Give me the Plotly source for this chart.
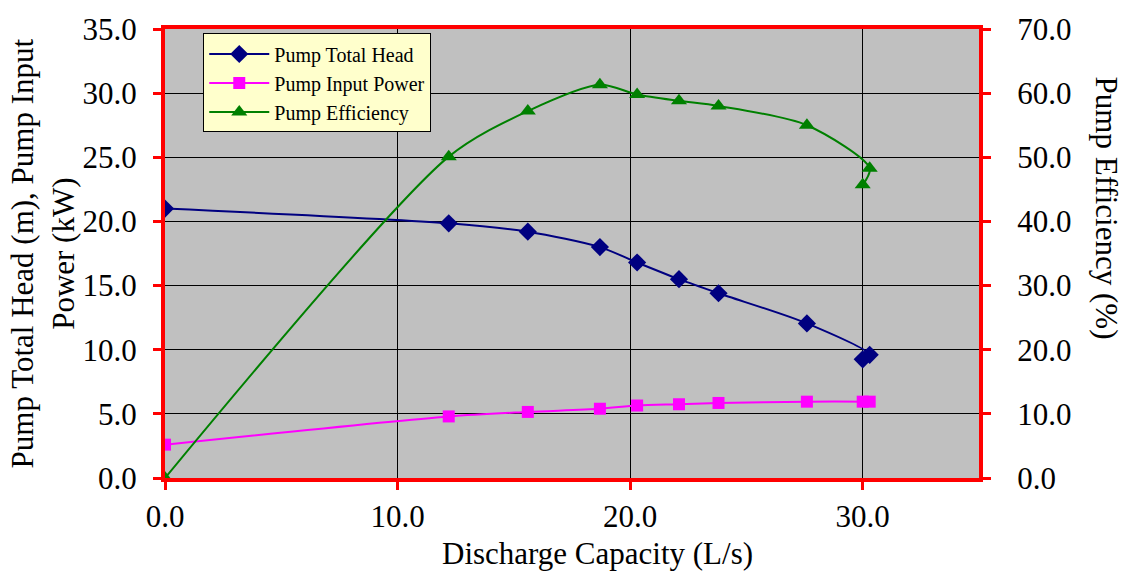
import plotly.graph_objects as go

discharge = [0.0, 12.2, 15.6, 18.7, 20.3, 22.1, 23.8, 27.6, 30.3, 30.0]
total_head = [21.0, 19.85, 19.2, 18.0, 16.8, 15.5, 14.4, 12.05, 9.6, 9.25]
input_power = [2.6, 4.8, 5.15, 5.4, 5.65, 5.75, 5.85, 5.95, 5.95, 5.95]
efficiency = [0.0, 50.1, 57.2, 61.3, 59.8, 58.8, 58.0, 55.0, 48.3, 45.7]

FONT = "Liberation Serif, Times New Roman, serif"
fig = go.Figure()
fig.add_trace(go.Scatter(x=discharge, y=total_head, name="Pump Total Head",
                         mode="lines+markers", line=dict(color="#000080", width=2, shape="spline", smoothing=0.8),
                         marker=dict(symbol="diamond", size=14, color="#000080")))
fig.add_trace(go.Scatter(x=discharge, y=input_power, name="Pump Input Power",
                         mode="lines+markers", line=dict(color="#FF00FF", width=2, shape="spline", smoothing=0.8),
                         marker=dict(symbol="square", size=12, color="#FF00FF")))
fig.add_trace(go.Scatter(x=discharge, y=efficiency, name="Pump Efficiency", yaxis="y2",
                         mode="lines+markers", line=dict(color="#008000", width=2, shape="spline", smoothing=0.8),
                         marker=dict(symbol="triangle-up", size=14, color="#008000")))

axis_common = dict(showline=True, linecolor="#FF0000", linewidth=4, ticks="outside",
                   tickcolor="#FF0000", ticklen=8, tickwidth=3, tickformat=".1f",
                   tickfont=dict(family=FONT, size=31, color="black"),
                   gridcolor="#000000", gridwidth=1, zeroline=False)

fig.update_layout(
    width=1125, height=579,
    margin=dict(l=165, r=146, t=20, b=101),
    paper_bgcolor="white", plot_bgcolor="#C0C0C0",
    font=dict(family=FONT, color="black"),
    xaxis=dict(range=[0, 35], dtick=10, tick0=0, mirror=True, **axis_common),
    yaxis=dict(range=[0, 35], dtick=5, ticklabelstandoff=10, **axis_common),
    yaxis2=dict(range=[0, 70], dtick=10, overlaying="y", side="right", showgrid=False,
                ticklabelstandoff=20, **axis_common),
    showlegend=True,
    legend=dict(x=0.047, y=0.99, xanchor="left", yanchor="top", bgcolor="#FFFFCC",
                bordercolor="black", borderwidth=1, font=dict(family=FONT, size=20, color="black"),
                tracegroupgap=0, itemwidth=60),
    annotations=[
        dict(text="Discharge Capacity (L/s)", xref="paper", yref="paper", x=0.531, y=-0.168,
             xanchor="center", yanchor="middle", showarrow=False, font=dict(family=FONT, size=31)),
        dict(text="Pump Total Head (m), Pump Input<br>Power (kW)", xref="paper", yref="paper",
             x=-0.15, y=0.5, xanchor="center", yanchor="middle", textangle=-90, showarrow=False,
             font=dict(family=FONT, size=31)),
        dict(text="Pump Efficiency (%)", xref="paper", yref="paper", x=1.156, y=0.6,
             xanchor="center", yanchor="middle", textangle=90, showarrow=False,
             font=dict(family=FONT, size=31)),
    ],
)
fig.write_html("out.html")
